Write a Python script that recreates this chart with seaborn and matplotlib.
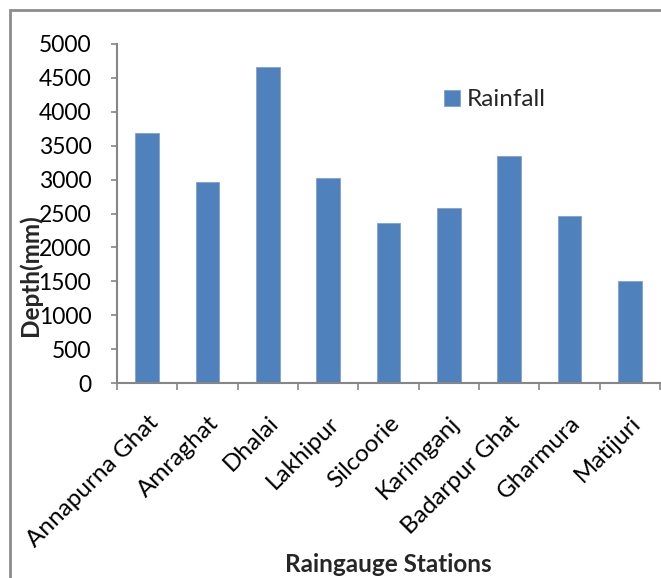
import matplotlib
matplotlib.use("Agg")
import matplotlib.pyplot as plt
import matplotlib.transforms as mtransforms
import seaborn as sns
import pandas as pd
from matplotlib.patches import Rectangle

stations = ["Annapurna Ghat", "Amraghat", "Dhalai", "Lakhipur", "Silcoorie",
            "Karimganj", "Badarpur Ghat", "Gharmura", "Matijuri"]
rainfall = [3690, 2960, 4655, 3025, 2355, 2580, 3355, 2460, 1510]
y_ticks = [0, 500, 1000, 1500, 2000, 2500, 3000, 3500, 4000, 4500, 5000]

sns.set_theme(style="white")
plt.rcParams["font.family"] = ["Lato", "DejaVu Sans"]

df = pd.DataFrame({"Station": stations, "Rainfall": rainfall})

fig = plt.figure(figsize=(6.61, 5.78), dpi=100)
ax = fig.add_axes([117 / 661, 1 - 383 / 578, (660 - 117) / 661, (383 - 44) / 578])

axis_grey = "#868686"
sns.barplot(data=df, x="Station", y="Rainfall", color="#4F81BD", saturation=1,
            width=0.39, label="Rainfall", ax=ax, edgecolor="#7FA3D0", linewidth=0.6)

ax.set_ylim(0, 5000)
ax.set_xlim(-0.5, len(stations) - 0.5)
ax.set_yticks(y_ticks)
ax.set_yticklabels([str(v) for v in y_ticks], fontsize=16.5, color="black")

# category labels at the centres, boundary ticks between categories
ax.set_xticks(range(len(stations)))
ax.set_xticklabels(stations, rotation=45, ha="right", va="top",
                   rotation_mode="anchor", fontsize=17.5, color="black")
shift = mtransforms.ScaledTranslation(6 / 100, 0, fig.dpi_scale_trans)
for lbl in ax.get_xticklabels():
    lbl.set_transform(lbl.get_transform() + shift)
ax.tick_params(axis="x", which="major", length=0, pad=21)
ax.set_xticks([i - 0.5 for i in range(len(stations) + 1)], minor=True)
ax.tick_params(axis="x", which="minor", length=5, width=1.2, color=axis_grey,
               direction="out", bottom=True)
ax.tick_params(axis="y", length=4.5, width=1.2, color=axis_grey, direction="out",
               left=True, pad=14)

for side in ["top", "right"]:
    ax.spines[side].set_visible(False)
for side in ["left", "bottom"]:
    ax.spines[side].set_color(axis_grey)
    ax.spines[side].set_linewidth(1.5)

ax.set_xlabel("Raingauge Stations", fontsize=17.5, fontweight="bold")
ax.set_ylabel("Depth(mm)", fontsize=17.5, fontweight="bold")
ax.yaxis.set_label_coords(-0.138, 0.317)
ax.xaxis.set_label_coords(0.5, -0.50)

leg = ax.legend(loc="upper left", bbox_to_anchor=(0.585, 0.895), frameon=False,
                fontsize=17.5, handlelength=0.65, handleheight=0.65,
                handletextpad=0.25, borderaxespad=0)

# outer chart frame
fig.patches.append(Rectangle((10 / 661, -0.05), 1.1, 1 - 10 / 578 + 0.05,
                             transform=fig.transFigure, fill=False,
                             edgecolor="#8C8C8C", linewidth=2, zorder=0))

fig.savefig("out.png", dpi=100)
